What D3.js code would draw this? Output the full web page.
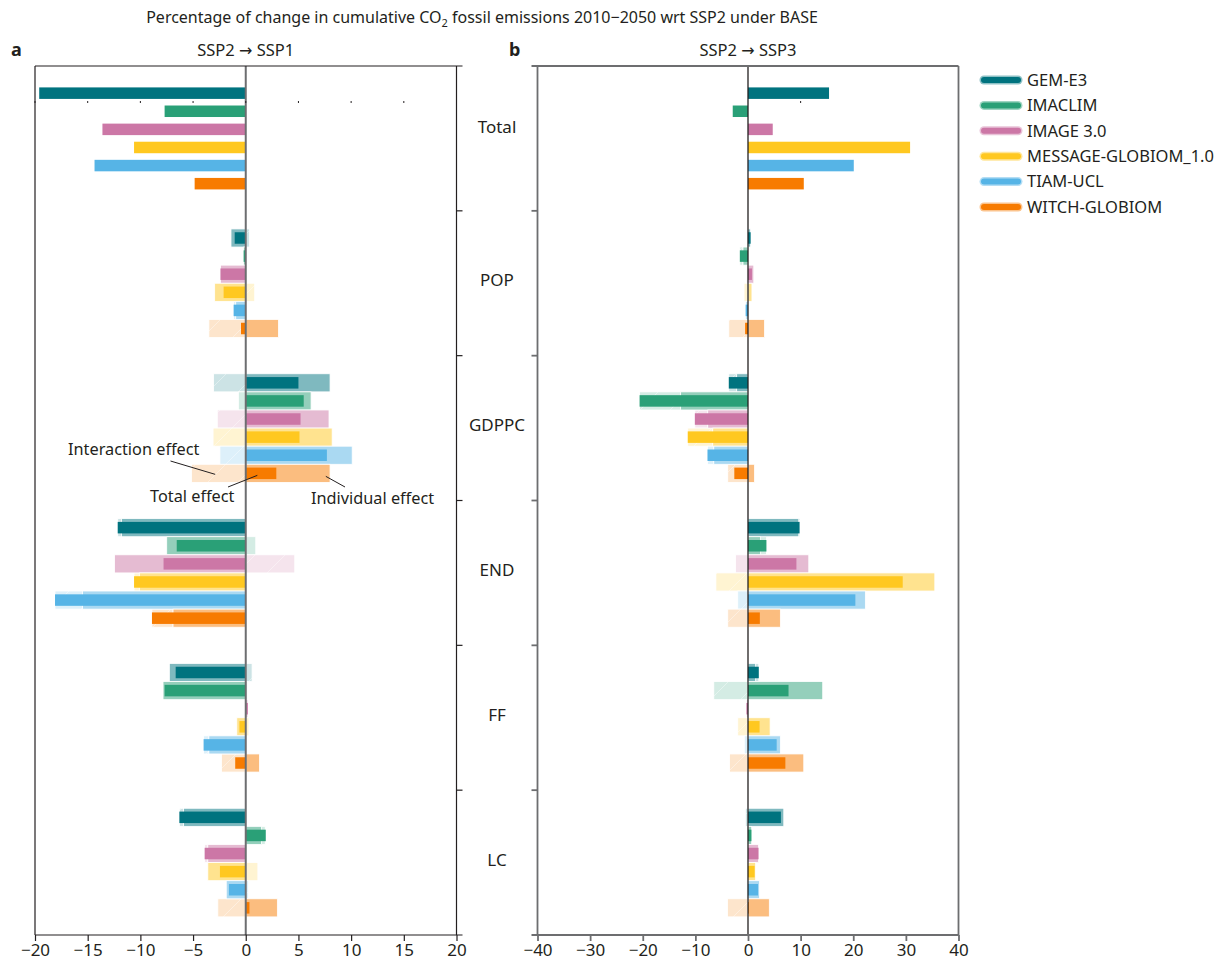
<!DOCTYPE html>
<meta charset="utf-8">
<style>
body { margin: 0; background: #fff; }
text { font-family: "Noto Sans", sans-serif; fill: #231f20; }
.frameA { stroke: #231f20; stroke-width: 1.2; fill: none; }
.frameB { stroke: #6d6e70; stroke-width: 1.8; fill: none; }
.tick text { font-size: 17px; font-family: "Noto Sans", sans-serif; }
</style>
<svg width="1229" height="967"></svg>
<script src="https://d3js.org/d3.v7.min.js"></script>
<script>
var models = ["GEM-E3", "IMACLIM", "IMAGE 3.0", "MESSAGE-GLOBIOM_1.0", "TIAM-UCL", "WITCH-GLOBIOM"];
var colors = ["#00737f", "#2aa077", "#cc77a6", "#ffc820", "#56b4e6", "#f77b00"];
var groups = ["Total", "POP", "GDPPC", "END", "FF", "LC"];
var ticksA = [-20, -15, -10, -5, 0, 5, 10, 15, 20];
var ticksB = [-40, -30, -20, -10, 0, 10, 20, 30, 40];

// SSP2 -> SSP1. Rows: POP, GDPPC, END, FF, LC; one value per model
var ssp1Total = [-19.6, -7.7, -13.6, -10.6, -14.35, -4.85];
var ssp1Individual = [
  [-1.4, -0.2, -2.4, -2.95, -0.95, 3.1],
  [8.0, 6.2, 7.9, 8.2, 10.1, 8.0],
  [-11.8, -7.5, -12.45, -10.1, -15.5, -6.9],
  [-7.25, -7.85, 0.2, -0.85, -3.5, 1.3],
  [-5.9, 1.5, -3.6, -3.6, -1.85, 3.0]
];
var ssp1Interaction = [
  [0.35, 0, 0, 0.85, -0.2, -3.5],
  [-3.05, -0.7, -2.7, -3.1, -2.45, -5.15],
  [-0.35, 0.95, 4.65, -0.5, -2.6, -2.0],
  [0.6, 0.15, 0, 0.3, -0.5, -2.3],
  [-0.4, 0.35, -0.3, 1.15, 0.25, -2.65]
];
var ssp1Effect = [
  [-1.05, -0.2, -2.4, -2.1, -1.15, -0.45],
  [5.0, 5.5, 5.2, 5.1, 7.7, 2.9],
  [-12.15, -6.55, -7.8, -10.6, -18.1, -8.9],
  [-6.65, -7.7, 0.2, -0.6, -4.0, -1.0],
  [-6.3, 1.9, -3.9, -2.45, -1.6, 0.35]
];

// SSP2 -> SSP3
var ssp3Total = [15.4, -2.9, 4.7, 30.8, 20.1, 10.6];
var ssp3Individual = [
  [0.5, -0.95, 1.1, 0.75, -0.4, 3.15],
  [-2.15, -12.8, -7.65, -6.7, -6.5, 1.25],
  [9.65, 2.4, 11.55, 35.5, 22.3, 6.15],
  [1.45, 14.2, -0.3, 4.2, 6.15, 10.6],
  [6.8, 0.7, 2.0, 1.45, 2.2, 4.05]
];
var ssp3Interaction = [
  [0, -0.6, -0.3, -0.75, 0, -3.65],
  [-1.5, -7.8, -2.45, -4.75, -1.2, -3.85],
  [0.2, 1.1, -2.35, -6.1, -1.95, -3.85],
  [0.6, -6.5, 0, -1.95, -0.7, -3.5],
  [-0.5, 0, 0, -0.2, -0.3, -3.9]
];
var ssp3Effect = [
  [0.5, -1.55, 0.75, 0, -0.45, -0.55],
  [-3.65, -20.6, -10.1, -11.45, -7.7, -2.6],
  [9.8, 3.5, 9.2, 29.4, 20.4, 2.25],
  [2.05, 7.7, -0.3, 2.2, 5.45, 7.1],
  [6.25, 0.65, 2.0, 1.25, 1.9, 0.15]
];

var svg = d3.select("svg");
var yTop = 66, yBottom = 935;

var y = d3.scaleBand().domain(groups).range([yTop, yBottom]);
var yInner = d3.scaleBand().domain(models).range([0, y.bandwidth()]).paddingInner(0).paddingOuter(1);

var xA = d3.scaleLinear().domain([-20, 20]).range([35, 456.5]);
var xB = d3.scaleLinear().domain([-40, 40]).range([537.5, 958.5]);

// faint hatch on the interaction bars
var defs = svg.append("defs");
var hatch = defs.append("pattern")
    .attr("id", "hatch")
    .attr("patternUnits", "userSpaceOnUse")
    .attr("width", 30).attr("height", 30);
hatch.append("path")
    .attr("d", "M0,30 L30,0")
    .attr("stroke", "#fff")
    .attr("stroke-opacity", 0.5)
    .attr("stroke-width", 0.8);

function drawPanel(x, total, individual, interaction, effect, ticks, cls, side) {
  var g = svg.append("g");
  var wide = yInner.bandwidth();
  var thin = 11.5;

  // total group
  g.selectAll(".tot")
    .data(total)
    .enter().append("rect")
      .attr("x", function(d) { return x(Math.min(0, d)); })
      .attr("y", function(d, i) { return y("Total") + yInner(models[i]) + (wide - thin) / 2; })
      .attr("width", function(d) { return Math.abs(x(d) - x(0)); })
      .attr("height", thin)
      .attr("fill", function(d, i) { return colors[i]; });

  groups.slice(1).forEach(function(grp, k) {
    var rows = models.map(function(m, i) {
      var ind = individual[k][i], inter = interaction[k][i];
      var start = (ind * inter > 0) ? ind : 0;
      return {model: m, i: i, ind: ind, i0: start, i1: start + inter, tot: effect[k][i]};
    });
    var gy = y(grp);

    var gi = g.selectAll(".inter-" + k).data(rows).enter();
    gi.append("rect")
        .attr("x", function(d) { return x(Math.min(d.i0, d.i1)); })
        .attr("y", function(d) { return gy + yInner(d.model); })
        .attr("width", function(d) { return Math.abs(x(d.i1) - x(d.i0)); })
        .attr("height", wide)
        .attr("fill", function(d) { return colors[d.i]; })
        .attr("fill-opacity", 0.2)
        .attr("stroke", "#fff").attr("stroke-width", 0.8);
    gi.append("rect")
        .attr("x", function(d) { return x(Math.min(d.i0, d.i1)); })
        .attr("y", function(d) { return gy + yInner(d.model); })
        .attr("width", function(d) { return Math.abs(x(d.i1) - x(d.i0)); })
        .attr("height", wide)
        .attr("fill", "url(#hatch)");

    g.selectAll(".ind-" + k)
      .data(rows)
      .enter().append("rect")
        .attr("x", function(d) { return x(Math.min(0, d.ind)); })
        .attr("y", function(d) { return gy + yInner(d.model); })
        .attr("width", function(d) { return Math.abs(x(d.ind) - x(0)); })
        .attr("height", wide)
        .attr("fill", function(d) { return colors[d.i]; })
        .attr("fill-opacity", 0.5)
        .attr("stroke", "#fff").attr("stroke-width", 0.8);

    g.selectAll(".eff-" + k)
      .data(rows)
      .enter().append("rect")
        .attr("x", function(d) { return x(Math.min(0, d.tot)); })
        .attr("y", function(d) { return gy + yInner(d.model) + (wide - thin) / 2; })
        .attr("width", function(d) { return Math.abs(x(d.tot) - x(0)); })
        .attr("height", thin)
        .attr("fill", function(d) { return colors[d.i]; });
  });

  // zero line
  g.append("line")
      .attr("x1", x(0)).attr("x2", x(0))
      .attr("y1", yTop).attr("y2", yBottom)
      .attr("stroke", cls == "frameA" ? "#6d6e70" : "#231f20")
      .attr("stroke-width", cls == "frameA" ? 2 : 1.3);

  // frame
  var x0 = x.range()[0], x1 = x.range()[1];
  var ext = side == "right" ? [x0, x1 + 6] : [x0 - 6, x1];
  g.append("line").attr("class", cls)
      .attr("x1", ext[0]).attr("x2", ext[1]).attr("y1", yTop).attr("y2", yTop);
  g.append("line").attr("class", cls)
      .attr("x1", x0).attr("x2", x0).attr("y1", yTop).attr("y2", yBottom);
  g.append("line").attr("class", cls)
      .attr("x1", x1).attr("x2", x1).attr("y1", yTop).attr("y2", yBottom);
  var ax = side == "right" ? x1 : x0;
  var dir = side == "right" ? 6 : -6;
  g.selectAll(".gtick")
    .data(groups.slice(1))
    .enter().append("line")
      .attr("class", cls)
      .attr("x1", ax).attr("x2", ax + dir)
      .attr("y1", function(d) { return y(d); })
      .attr("y2", function(d) { return y(d); });

  var axis = g.append("g")
      .attr("transform", "translate(0," + yBottom + ")")
      .call(d3.axisBottom(x).tickValues(ticks).tickSize(6).tickSizeOuter(0).tickPadding(3)
        .tickFormat(function(d) { return d < 0 ? "\u2212" + Math.abs(d) : d; }));
  axis.select(".domain").remove();
  axis.selectAll(".tick line").attr("class", cls);
  axis.selectAll(".tick text").style("fill", "#231f20");
  axis.append("line").attr("class", cls)
      .attr("x1", ext[0]).attr("x2", ext[1]).attr("y1", 0).attr("y2", 0);
  return g;
}

var gA = drawPanel(xA, ssp1Total, ssp1Individual, ssp1Interaction, ssp1Effect, ticksA, "frameA", "right");
var gB = drawPanel(xB, ssp3Total, ssp3Individual, ssp3Interaction, ssp3Effect, ticksB, "frameB", "left");

// stray minor marks near the top of the panels
gA.selectAll(".mark")
  .data(ticksA)
  .enter().append("line")
    .attr("x1", function(d) { return xA(d); })
    .attr("x2", function(d) { return xA(d); })
    .attr("y1", 101).attr("y2", 103)
    .attr("stroke", "#231f20").attr("stroke-width", 1);
gB.append("line")
    .attr("x1", xB(10)).attr("x2", xB(10))
    .attr("y1", 101).attr("y2", 103)
    .attr("stroke", "#231f20").attr("stroke-width", 1);

// title
var title = svg.append("text")
    .attr("x", 482).attr("y", 23)
    .attr("text-anchor", "middle")
    .style("font-size", "16px");
title.append("tspan").text("Percentage of change in cumulative CO");
title.append("tspan").attr("dy", 4).style("font-size", "11px").text("2");
title.append("tspan").attr("dy", -4).text(" fossil emissions 2010\u22122050 wrt SSP2 under BASE");

svg.append("text").attr("x", 11).attr("y", 56)
    .style("font-size", "18px").style("font-weight", "bold").text("a");
svg.append("text").attr("x", 509).attr("y", 56)
    .style("font-size", "18px").style("font-weight", "bold").text("b");

function panelTitle(x, right) {
  var t = svg.append("text").attr("x", x).attr("y", 56).attr("text-anchor", "middle")
      .style("font-size", "16.5px");
  t.append("tspan").text("SSP2 ");
  t.append("tspan").style("font-family", "DejaVu Sans").style("font-size", "16px").text("\u2192");
  t.append("tspan").text(" " + right);
}
panelTitle(xA(0), "SSP1");
panelTitle(xB(0), "SSP3");

// category labels between panels
svg.selectAll(".cat")
  .data(groups)
  .enter().append("text")
    .attr("x", 497)
    .attr("y", function(d, i) { return y(d) + y.bandwidth() / 2 + (i == 0 ? -11 : -3); })
    .attr("dy", "0.35em")
    .attr("text-anchor", "middle")
    .style("font-size", "17px")
    .text(function(d) { return d; });

// legend
var leg = svg.append("g").attr("transform", "translate(980,80)");
var li = leg.selectAll("g")
  .data(models)
  .enter().append("g")
    .attr("transform", function(d, i) { return "translate(0," + i * 25.4 + ")"; });
li.append("line")
    .attr("x1", 4).attr("x2", 38)
    .attr("stroke", function(d, i) { return colors[i]; })
    .attr("stroke-opacity", 0.45)
    .attr("stroke-width", 9).attr("stroke-linecap", "round");
li.append("line")
    .attr("x1", 4).attr("x2", 38)
    .attr("stroke", function(d, i) { return colors[i]; })
    .attr("stroke-width", 6).attr("stroke-linecap", "round");
li.append("text")
    .attr("x", 47).attr("dy", "0.35em")
    .style("font-size", "16.5px")
    .text(function(d) { return d; });

// annotations
var rowW = y("GDPPC") + yInner("WITCH-GLOBIOM") + yInner.bandwidth() / 2;
svg.append("text").attr("x", 68).attr("y", 455).style("font-size", "16.3px").text("Interaction effect");
svg.append("line").attr("x1", 170.5).attr("y1", 461).attr("x2", xA(-2.9)).attr("y2", rowW + 1)
    .attr("stroke", "#231f20").attr("stroke-width", 1);
svg.append("text").attr("x", 150).attr("y", 502).style("font-size", "16.3px").text("Total effect");
svg.append("line").attr("x1", 228).attr("y1", 487).attr("x2", xA(1.1)).attr("y2", rowW + 2)
    .attr("stroke", "#231f20").attr("stroke-width", 1);
svg.append("text").attr("x", 311).attr("y", 504).style("font-size", "16.3px").text("Individual effect");
svg.append("line").attr("x1", xA(7.6)).attr("y1", rowW + 3).attr("x2", 345).attr("y2", 487)
    .attr("stroke", "#231f20").attr("stroke-width", 1);
</script>
